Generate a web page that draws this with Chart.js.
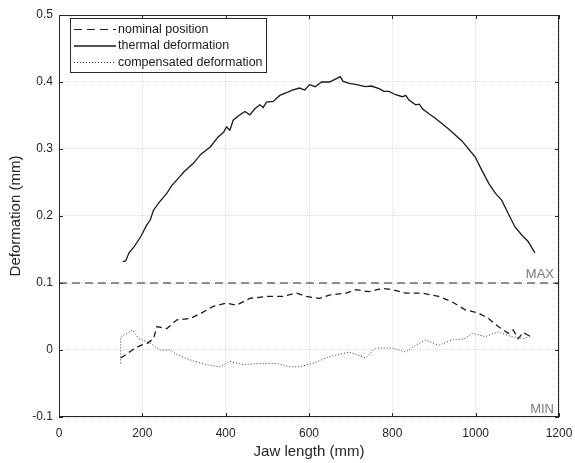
<!DOCTYPE html>
<html>
<head>
<meta charset="utf-8">
<script src="https://cdn.jsdelivr.net/npm/chart.js@4.4.1/dist/chart.umd.min.js"></script>
<style>
  html, body { margin: 0; padding: 0; background: #fff; }
  #chart { display: block; }
</style>
</head>
<body>
<canvas id="chart" width="575" height="463"></canvas>
<script>
// --- Data ---
const xTicks = [0, 200, 400, 600, 800, 1000, 1200];
const yTicks = [-0.1, 0, 0.1, 0.2, 0.3, 0.4, 0.5];
const limitMax = 0.1;
const limitMin = -0.1;

const nominalX = [0, 1200];
const nominalY = [0.1, 0.1];

const thermalX = [153, 160, 168, 180, 196, 210, 219, 227, 240, 259, 270, 283, 300, 323, 340, 363, 382, 395, 402, 410,
  418, 432, 446, 458, 470, 482, 490, 498, 514, 530, 546, 560, 577, 590, 601, 615, 630, 649, 662, 675, 682, 697, 715,
  735, 750, 768, 780, 792, 808, 824, 832, 840, 856, 865, 872, 887, 903, 919, 935, 951, 967, 983, 999, 1011, 1031,
  1047, 1062, 1082, 1094, 1110, 1126, 1142];
const thermalY = [0.132, 0.133, 0.145, 0.154, 0.169, 0.186, 0.194, 0.209, 0.220, 0.234, 0.245, 0.254, 0.266, 0.279,
  0.292, 0.303, 0.318, 0.325, 0.333, 0.328, 0.343, 0.350, 0.356, 0.351, 0.360, 0.366, 0.362, 0.370, 0.371, 0.380,
  0.384, 0.388, 0.391, 0.388, 0.396, 0.393, 0.400, 0.400, 0.404, 0.408, 0.401, 0.398, 0.396, 0.393, 0.394, 0.390,
  0.386, 0.386, 0.381, 0.378, 0.380, 0.373, 0.366, 0.367, 0.360, 0.353, 0.346, 0.338, 0.330, 0.321, 0.312, 0.300,
  0.288, 0.273, 0.249, 0.234, 0.224, 0.199, 0.184, 0.172, 0.162, 0.145];

// lower dashed curve (not in legend)
const residualX = [148, 160, 176, 196, 212, 227, 235, 259, 283, 315, 347, 370, 402, 426, 458, 498, 537, 569, 593,
  625, 649, 689, 713, 744, 776, 800, 832, 871, 911, 943, 975, 1007, 1031, 1054, 1078, 1090, 1102, 1114, 1126, 1134];
const residualY = [-0.012, -0.007, 0.0, 0.007, 0.010, 0.017, 0.035, 0.032, 0.045, 0.047, 0.057, 0.065, 0.070, 0.067,
  0.077, 0.080, 0.080, 0.085, 0.080, 0.077, 0.082, 0.085, 0.090, 0.087, 0.092, 0.090, 0.085, 0.085, 0.080, 0.072,
  0.060, 0.055, 0.047, 0.035, 0.025, 0.030, 0.017, 0.026, 0.022, 0.020];

const compensatedX = [148, 148, 164, 176, 192, 219, 243, 267, 283, 315, 355, 386, 410, 442, 482, 522, 553, 577,
  609, 649, 697, 736, 760, 800, 832, 856, 880, 911, 943, 975, 991, 1023, 1054, 1086, 1118, 1134];
const compensatedY = [-0.020, 0.020, 0.025, 0.030, 0.017, 0.010, 0.0, 0.0, -0.007, -0.015, -0.022, -0.025, -0.017,
  -0.022, -0.020, -0.020, -0.025, -0.025, -0.020, -0.010, -0.003, -0.012, 0.003, 0.003, -0.003, 0.007, 0.015, 0.007,
  0.015, 0.017, 0.025, 0.020, 0.027, 0.020, 0.017, 0.022];

const FONT = '"Liberation Sans", Arial, sans-serif';
const toPoints = (xs, ys) => xs.map((x, i) => ({ x, y: ys[i] }));

// --- Frame, inward ticks, MAX/MIN labels and legend ---
const matlabPlugin = {
  id: 'matlab',
  afterDatasetsDraw(chart) {
    const { ctx, chartArea: a, scales: { x, y } } = chart;
    const tl = 4;
    ctx.save();
    ctx.strokeStyle = '#262626';
    ctx.lineWidth = 1;
    ctx.setLineDash([]);
    ctx.beginPath();
    xTicks.forEach(v => {
      const px = Math.round(x.getPixelForValue(v)) + 0.5;
      ctx.moveTo(px, a.bottom); ctx.lineTo(px, a.bottom - tl);
      ctx.moveTo(px, a.top); ctx.lineTo(px, a.top + tl);
    });
    yTicks.forEach(v => {
      const py = Math.round(y.getPixelForValue(v)) + 0.5;
      ctx.moveTo(a.left, py); ctx.lineTo(a.left + tl, py);
      ctx.moveTo(a.right, py); ctx.lineTo(a.right - tl, py);
    });
    ctx.stroke();
    ctx.strokeRect(a.left + 0.5, a.top + 0.5, a.width - 1, a.height - 1);

    // limit labels
    ctx.fillStyle = '#7a7a7a';
    ctx.font = '13px ' + FONT;
    ctx.textAlign = 'right';
    ctx.textBaseline = 'alphabetic';
    ctx.fillText('MAX', a.right - 5, y.getPixelForValue(limitMax) - 5);
    ctx.fillText('MIN', a.right - 5, y.getPixelForValue(limitMin) - 4);

    // legend box
    const items = chart.data.datasets.filter(d => d.inLegend);
    const lx = a.left + 11, ly = a.top + 3, lw = 196, lh = 54;
    ctx.fillStyle = '#fff';
    ctx.fillRect(lx, ly, lw, lh);
    ctx.strokeStyle = '#262626';
    ctx.strokeRect(lx + 0.5, ly + 0.5, lw, lh);
    ctx.font = '12.5px ' + FONT;
    ctx.textAlign = 'left';
    ctx.textBaseline = 'middle';
    items.forEach((d, i) => {
      const ry = ly + 11.5 + i * 16.5;
      ctx.beginPath();
      ctx.strokeStyle = d.borderColor;
      ctx.lineWidth = d.borderWidth;
      ctx.setLineDash(d.borderDash || []);
      ctx.moveTo(lx + 4, ry);
      ctx.lineTo(lx + 46, ry);
      ctx.stroke();
      ctx.fillStyle = '#1a1a1a';
      ctx.fillText(d.label, lx + 48, ry);
    });
    ctx.restore();
  }
};

const gridStyle = { color: 'rgba(0,0,0,0.14)', drawTicks: false, lineWidth: 1 };
const tickFont = { family: FONT, size: 12 };

new Chart(document.getElementById('chart'), {
  type: 'scatter',
  data: {
    datasets: [
      { label: 'nominal position', inLegend: true, data: toPoints(nominalX, nominalY),
        borderColor: '#262626', borderWidth: 1, borderDash: [8, 5] },
      { label: 'thermal deformation', inLegend: true, data: toPoints(thermalX, thermalY),
        borderColor: '#1a1a1a', borderWidth: 1.3 },
      { label: 'compensated deformation', inLegend: true, data: toPoints(compensatedX, compensatedY),
        borderColor: '#333', borderWidth: 1, borderDash: [1, 2] },
      { label: 'residual', inLegend: false, data: toPoints(residualX, residualY),
        borderColor: '#1a1a1a', borderWidth: 1.3, borderDash: [6, 4] }
    ].map(d => Object.assign(d, { showLine: true, pointRadius: 0, tension: 0, fill: false }))
  },
  options: {
    responsive: false,
    animation: false,
    layout: { padding: { top: 15, right: 16, bottom: 0, left: 0 } },
    plugins: { legend: { display: false }, tooltip: { enabled: false } },
    scales: {
      x: {
        type: 'linear', min: 0, max: 1200,
        afterBuildTicks: s => { s.ticks = xTicks.map(v => ({ value: v })); },
        afterFit: s => { s.height = 46; s.paddingLeft = 0; s.paddingRight = 0; },
        ticks: { font: tickFont, color: '#262626', padding: 9, maxRotation: 0, callback: v => String(v) },
        grid: gridStyle,
        border: { display: false, dash: [1, 1] },
        title: { display: true, text: 'Jaw length (mm)', color: '#262626',
          font: { family: FONT, size: 15 }, padding: { top: 0, bottom: 2 } }
      },
      y: {
        type: 'linear', min: -0.1, max: 0.5,
        afterBuildTicks: s => { s.ticks = yTicks.map(v => ({ value: v })); },
        afterFit: s => { s.width = 59; s.paddingTop = 0; s.paddingBottom = 0; },
        ticks: { font: tickFont, color: '#262626', padding: 6, callback: v => String(v) },
        grid: gridStyle,
        border: { display: false, dash: [1, 1] },
        title: { display: true, text: 'Deformation (mm)', color: '#262626',
          font: { family: FONT, size: 15 }, padding: { top: 7, bottom: 0 } }
      }
    }
  },
  plugins: [matlabPlugin]
});
</script>
</body>
</html>
